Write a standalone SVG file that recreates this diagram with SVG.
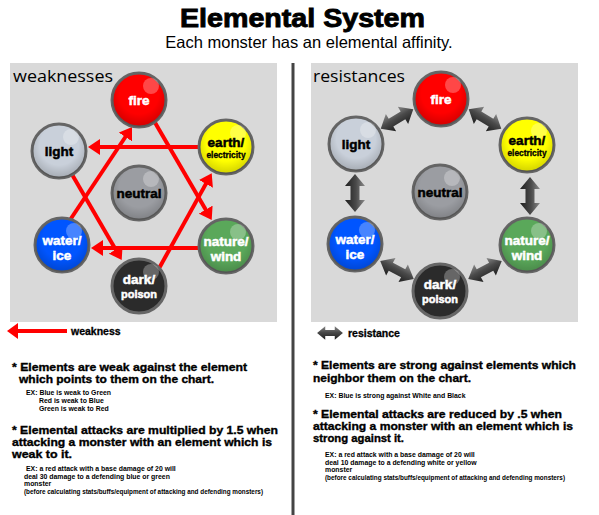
<svg xmlns="http://www.w3.org/2000/svg" width="599" height="515" viewBox="0 0 599 515">
<style>
.ttl{font-family:"Liberation Sans",Arial,sans-serif;font-weight:bold;font-size:26px;fill:#000;stroke:#000;stroke-width:0.9}
.sub{font-family:"Liberation Sans",Arial,sans-serif;font-size:16.5px;fill:#000}
.pan{fill:#d9d9d9}
.ptl{font-family:"Open Sans","Noto Sans",sans-serif;font-size:16px;fill:#000}
.nd{stroke:#666;stroke-width:3}
.gl{fill:#fff;opacity:0.28}
.lb{font-family:"Liberation Sans",Arial,sans-serif;font-weight:bold;font-size:13.5px;text-anchor:middle;stroke-width:0.5}
.w{fill:#fff;stroke:#fff}
.k{fill:#000;stroke:#000}
.sm{font-size:8.4px;stroke-width:0.3}
.md{font-size:11px}
.red{stroke:#ff0000;stroke-width:4;fill:none}
.h{font-family:"Liberation Sans",Arial,sans-serif;font-weight:bold;font-size:10.8px;fill:#000;stroke:#000;stroke-width:0.35}
.s{font-family:"Liberation Sans",Arial,sans-serif;font-weight:bold;font-size:6.9px;fill:#000}
.leg{font-family:"Liberation Sans",Arial,sans-serif;font-weight:bold;font-size:10.5px;fill:#000;stroke:#000;stroke-width:0.3}
</style>
<defs>
<marker id="ah" markerWidth="12" markerHeight="16" refX="6" refY="8" orient="auto" markerUnits="userSpaceOnUse">
<path d="M0,0 L12,8 L0,16 Z" fill="#ff0000"/>
</marker>
<linearGradient id="dg" gradientUnits="userSpaceOnUse" x1="0" y1="-10" x2="0" y2="10">
<stop offset="0" stop-color="#8a8a8a"/>
<stop offset="0.45" stop-color="#4a4a4a"/>
<stop offset="1" stop-color="#1e1e1e"/>
</linearGradient>
<radialGradient id="sh" cx="0.5" cy="0.4" r="0.6">
<stop offset="0.6" stop-color="#000" stop-opacity="0"/>
<stop offset="1" stop-color="#000" stop-opacity="0.18"/>
</radialGradient>
<path id="da" d="M-19,0 L-7,-10 L-7,-4.5 L7,-4.5 L7,-10 L19,0 L7,10 L7,4.5 L-7,4.5 L-7,10 Z" fill="url(#dg)"/>
</defs>
<rect width="599" height="515" fill="#fff"/>
<text class="ttl" x="302.5" y="27" text-anchor="middle" textLength="245" lengthAdjust="spacingAndGlyphs">Elemental System</text>
<text class="sub" x="309" y="48" text-anchor="middle">Each monster has an elemental affinity.</text>

<rect class="pan" x="10" y="63" width="267" height="259"/>
<rect class="pan" x="311" y="63" width="267" height="259"/>
<line x1="293" y1="63" x2="293" y2="515" stroke="#444" stroke-width="3"/>
<text class="ptl" x="13" y="82" textLength="100" lengthAdjust="spacingAndGlyphs">weaknesses</text>
<text class="ptl" x="313" y="82" textLength="92" lengthAdjust="spacingAndGlyphs">resistances</text>

<g id="connectors">
<line class="red" x1="205" y1="147" x2="94" y2="147" marker-end="url(#ah)"/>
<line class="red" x1="205" y1="248" x2="97" y2="248" marker-end="url(#ah)"/>
<line class="red" x1="64" y1="229" x2="128.7" y2="132" marker-end="url(#ah)"/>
<line class="red" x1="150" y1="114" x2="208.7" y2="214.8" marker-end="url(#ah)"/>
<line class="red" x1="70" y1="171" x2="118.7" y2="254.8" marker-end="url(#ah)"/>
<line class="red" x1="157" y1="272" x2="208.8" y2="178.6" marker-end="url(#ah)"/>
<use href="#da" transform="translate(397,119) rotate(-31)"/>
<use href="#da" transform="translate(485,119) rotate(31)"/>
<use href="#da" transform="translate(355,193) rotate(90)"/>
<use href="#da" transform="translate(530,196) rotate(90)"/>
<use href="#da" transform="translate(397,270) rotate(28)"/>
<use href="#da" transform="translate(485,270) rotate(-28)"/>
</g>

<g id="w-fire"><circle class="nd" cx="139" cy="100" r="27" fill="#ff0000"/><circle cx="139" cy="100" r="27" fill="url(#sh)"/><circle class="gl" cx="151" cy="86" r="8"/><text class="lb w" x="139" y="105">fire</text></g>
<g id="w-light"><circle class="nd" cx="59" cy="151" r="27" fill="#c9d0da"/><circle cx="59" cy="151" r="27" fill="url(#sh)"/><circle class="gl" cx="71" cy="137" r="8"/><text class="lb k" x="59" y="156">light</text></g>
<g id="w-earth"><circle class="nd" cx="226" cy="147" r="27" fill="#ffff00"/><circle cx="226" cy="147" r="27" fill="url(#sh)"/><circle class="gl" cx="238" cy="133" r="8"/><text class="lb k" x="226" y="147">earth/</text><text class="lb k sm" x="226" y="158">electricity</text></g>
<g id="w-neutral"><circle class="nd" cx="139" cy="193" r="27" fill="#9b9da2"/><circle cx="139" cy="193" r="27" fill="url(#sh)"/><circle class="gl" cx="151" cy="179" r="8"/><text class="lb k" x="139" y="198">neutral</text></g>
<g id="w-water"><circle class="nd" cx="62" cy="245" r="27" fill="#0055ff"/><circle cx="62" cy="245" r="27" fill="url(#sh)"/><circle class="gl" cx="74" cy="231" r="8"/><text class="lb w" x="62" y="245">water/</text><text class="lb w" x="62" y="260">ice</text></g>
<g id="w-nature"><circle class="nd" cx="226" cy="246" r="27" fill="#5aa85a"/><circle cx="226" cy="246" r="27" fill="url(#sh)"/><circle class="gl" cx="238" cy="232" r="8"/><text class="lb w" x="226" y="246">nature/</text><text class="lb w" x="226" y="261">wind</text></g>
<g id="w-dark"><circle class="nd" cx="139" cy="286" r="27" fill="#2b2b2b"/><circle class="gl" cx="151" cy="272" r="8"/><text class="lb w" x="139" y="284">dark/</text><text class="lb w md" x="139" y="298">poison</text></g>

<g id="r-fire"><circle class="nd" cx="441" cy="99" r="27" fill="#ff0000"/><circle cx="441" cy="99" r="27" fill="url(#sh)"/><circle class="gl" cx="453" cy="85" r="8"/><text class="lb w" x="441" y="104">fire</text></g>
<g id="r-light"><circle class="nd" cx="356" cy="144" r="27" fill="#c9d0da"/><circle cx="356" cy="144" r="27" fill="url(#sh)"/><circle class="gl" cx="368" cy="130" r="8"/><text class="lb k" x="356" y="149">light</text></g>
<g id="r-earth"><circle class="nd" cx="527" cy="145" r="27" fill="#ffff00"/><circle cx="527" cy="145" r="27" fill="url(#sh)"/><circle class="gl" cx="539" cy="131" r="8"/><text class="lb k" x="527" y="145">earth/</text><text class="lb k sm" x="527" y="156">electricity</text></g>
<g id="r-neutral"><circle class="nd" cx="440" cy="192" r="27" fill="#9b9da2"/><circle cx="440" cy="192" r="27" fill="url(#sh)"/><circle class="gl" cx="452" cy="178" r="8"/><text class="lb k" x="440" y="197">neutral</text></g>
<g id="r-water"><circle class="nd" cx="355" cy="244" r="27" fill="#0055ff"/><circle cx="355" cy="244" r="27" fill="url(#sh)"/><circle class="gl" cx="367" cy="230" r="8"/><text class="lb w" x="355" y="244">water/</text><text class="lb w" x="355" y="259">ice</text></g>
<g id="r-nature"><circle class="nd" cx="527" cy="245" r="27" fill="#5aa85a"/><circle cx="527" cy="245" r="27" fill="url(#sh)"/><circle class="gl" cx="539" cy="231" r="8"/><text class="lb w" x="527" y="245">nature/</text><text class="lb w" x="527" y="260">wind</text></g>
<g id="r-dark"><circle class="nd" cx="440" cy="291" r="27" fill="#2b2b2b"/><circle class="gl" cx="452" cy="277" r="8"/><text class="lb w" x="440" y="289">dark/</text><text class="lb w md" x="440" y="303">poison</text></g>

<g id="legend-weakness">
<line class="red" x1="67" y1="331" x2="16" y2="331"/>
<path d="M7,331 L18,323 L18,339 Z" fill="#ff0000"/>
<text class="leg" x="71" y="335">weakness</text>
</g>
<g id="legend-resistance">
<use href="#da" transform="translate(330,333) scale(0.68)"/>
<text class="leg" x="348" y="337">resistance</text>
</g>

<g id="notes-left">
<text class="h" x="12" y="371" textLength="235" lengthAdjust="spacingAndGlyphs">* Elements are weak against the element</text>
<text class="h" x="19" y="383" textLength="195" lengthAdjust="spacingAndGlyphs">which points to them on the chart.</text>
<text class="s" x="26" y="395">EX: Blue is weak to Green</text>
<text class="s" x="39" y="403">Red is weak to Blue</text>
<text class="s" x="39" y="411">Green is weak to Red</text>
<text class="h" x="12" y="434" textLength="266" lengthAdjust="spacingAndGlyphs">* Elemental attacks are multiplied by 1.5 when</text>
<text class="h" x="12" y="446" textLength="260" lengthAdjust="spacingAndGlyphs">attacking a monster with an element which is</text>
<text class="h" x="12" y="458" textLength="60" lengthAdjust="spacingAndGlyphs">weak to it.</text>
<text class="s" x="26" y="470.5">EX: a red attack with a base damage of 20 will</text>
<text class="s" x="24" y="478.5">deal 30 damage to a defending blue or green</text>
<text class="s" x="24" y="486">monster</text>
<text class="s" x="24" y="493.5" textLength="239" lengthAdjust="spacingAndGlyphs">(before calculating stats/buffs/equipment of attacking and defending monsters)</text>
</g>
<g id="notes-right">
<text class="h" x="313" y="369" textLength="263" lengthAdjust="spacingAndGlyphs">* Elements are strong against elements which</text>
<text class="h" x="313" y="382" textLength="158" lengthAdjust="spacingAndGlyphs">neighbor them on the chart.</text>
<text class="s" x="325" y="397.5">EX: Blue is strong against White and Black</text>
<text class="h" x="313" y="418" textLength="249" lengthAdjust="spacingAndGlyphs">* Elemental attacks are reduced by .5 when</text>
<text class="h" x="313" y="430" textLength="260" lengthAdjust="spacingAndGlyphs">attacking a monster with an element which is</text>
<text class="h" x="313" y="442" textLength="91" lengthAdjust="spacingAndGlyphs">strong against it.</text>
<text class="s" x="325" y="457">EX: a red attack with a base damage of 20 will</text>
<text class="s" x="325" y="464.5">deal 10 damage to a defending white or yellow</text>
<text class="s" x="325" y="472">monster</text>
<text class="s" x="325" y="479.5" textLength="240" lengthAdjust="spacingAndGlyphs">(before calculating stats/buffs/equipment of attacking and defending monsters)</text>
</g>
</svg>
